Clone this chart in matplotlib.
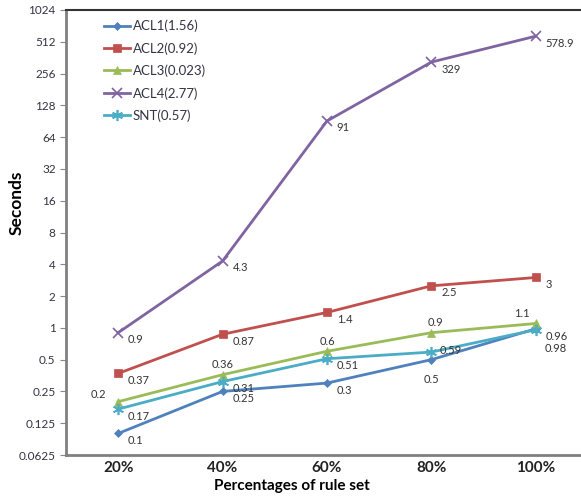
import matplotlib
matplotlib.use("Agg")
import matplotlib.pyplot as plt
import numpy as np

categories = ["20%", "40%", "60%", "80%", "100%"]
acl1 = [0.1, 0.25, 0.3, 0.5, 0.98]
acl2 = [0.37, 0.87, 1.4, 2.5, 3.0]
acl3 = [0.2, 0.36, 0.6, 0.9, 1.1]
acl4 = [0.9, 4.3, 91, 329, 578.9]
snt = [0.17, 0.31, 0.51, 0.59, 0.96]
series_names = ["ACL1(1.56)", "ACL2(0.92)", "ACL3(0.023)", "ACL4(2.77)", "SNT(0.57)"]
ytick_vals = [0.0625, 0.125, 0.25, 0.5, 1, 2, 4, 8, 16, 32, 64, 128, 256, 512, 1024]
ytick_labels = ["0.0625", "0.125", "0.25", "0.5", "1", "2", "4", "8", "16", "32", "64", "128", "256", "512", "1024"]

plt.rcParams['font.family'] = ['Lato', 'DejaVu Sans']

fig = plt.figure(figsize=(5.81, 4.97), dpi=100)
ax = fig.add_axes([66/581, 42/497, 522/581, 445/497])

x = np.arange(len(categories))
colors = ["#4F81BD", "#C0504D", "#9BBB59", "#8064A2", "#4BACC6"]
markers = ["D", "s", "^", "x", (6, 2, 0)]
msizes = [4, 6, 6, 7, 8]
data = [acl1, acl2, acl3, acl4, snt]

for d, c, m, ms, name in zip(data, colors, markers, msizes, series_names):
    ax.plot(x, d, color=c, marker=m, markersize=ms, linewidth=2, label=name,
            markeredgewidth=1.2 if m in ("x",) or isinstance(m, tuple) else 0.5)

# label offsets (points)
r = (7, -5)
offsets = {
    0: [r, r, r, (0, -14), (6, -14)],
    1: [r, r, r, r, r],
    2: [(-14, 5), (0, 7), (0, 7), (3, 7), (-10, 7)],
    3: [r, r, r, r, r],
    4: [r, r, r, (6, 1), r],
}
for si, d in enumerate(data):
    for i, v in enumerate(d):
        dx, dy = offsets[si][i]
        ha = 'left' if dx > 0 and si != 2 else 'center'
        if si == 0 and i == 3:
            ha = 'center'
        ax.annotate(f"{v:g}", (x[i], v), xytext=(dx, dy), textcoords='offset points',
                    fontsize=8, color='#333333', ha=ha, va='center')

ax.set_yscale('log', base=2)
ax.set_ylim(0.0625, 1024)
ax.set_yticks(ytick_vals)
ax.set_yticklabels(ytick_labels)
ax.minorticks_off()
ax.set_xlim(-0.5, 4.5)
ax.set_xticks(x)
ax.set_xticklabels(categories, fontsize=11, fontweight='bold', color='#222222')
ax.tick_params(axis='x', length=0, pad=4)
ax.tick_params(axis='y', labelsize=8.5, labelcolor='#333344', length=4, color='#888888')

for s in ['left', 'bottom']:
    ax.spines[s].set_color('#808080')
    ax.spines[s].set_linewidth(2)
ax.spines['top'].set_color('#333333')
ax.spines['top'].set_linewidth(1.5)
ax.spines['right'].set_color('#333333')

ax.set_ylabel("Seconds", fontsize=12.5, fontweight='bold')
ax.yaxis.set_label_coords(-0.08, 0.566)
ax.set_xlabel("Percentages of rule set", fontsize=11, fontweight='bold')
ax.xaxis.set_label_coords(0.433, -0.054)

leg = ax.legend(loc='upper left', bbox_to_anchor=(0.05, 1.005), frameon=False,
                fontsize=9.5, handlelength=2.0, handletextpad=0.2, labelspacing=0.75)
for t in leg.get_texts():
    t.set_color('#333344')

fig.savefig("out.png", dpi=100)
